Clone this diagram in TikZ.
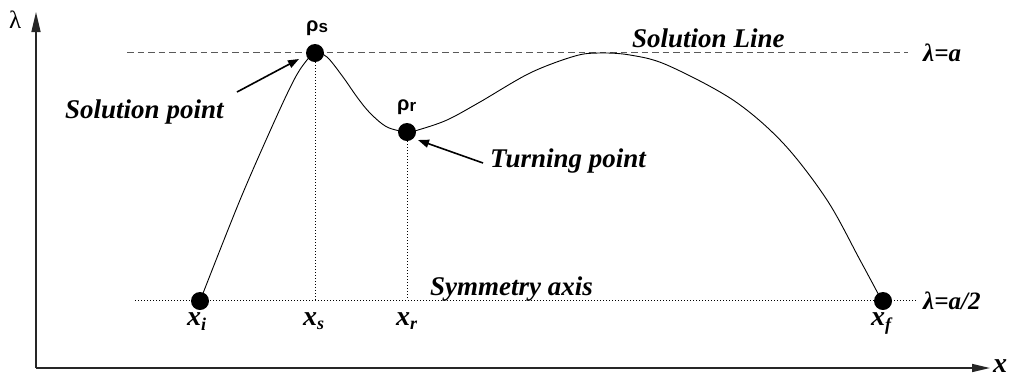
\documentclass[tikz,border=0pt]{standalone}
\usepackage{fontspec}
\setmainfont{Liberation Serif}
\newfontfamily\lblfont{Liberation Serif}[UprightFont={* Bold Italic}]
\newfontfamily\rhofont{Liberation Sans}[UprightFont={* Bold}]
\usetikzlibrary{arrows.meta}
\begin{document}
\begin{tikzpicture}[x=1pt,y=-1pt,
  lbl/.style={font=\lblfont\fontsize{27}{30}\selectfont, inner sep=0pt, anchor=base west},
  xlbl/.style={font=\lblfont\fontsize{28}{30}\selectfont, inner sep=0pt, anchor=base west},
  rholbl/.style={font=\rhofont\fontsize{20}{20}\selectfont, inner sep=0pt, anchor=base west},
  dot/.style={circle, fill=black, minimum size=18pt, inner sep=0pt},
  axisline/.style={line width=1.5pt, black!85},
  curveline/.style={line width=0.9pt},
  dashline/.style={line width=0.9pt, black!65, dash pattern=on 6.5pt off 4pt},
  dotline/.style={line width=0.9pt, dash pattern=on 1pt off 2pt},
  pointer/.style={line width=1.6pt, -{Triangle[length=11pt,width=8pt]}}]
\useasboundingbox (0,0) rectangle (1013,376);
% axes
\coordinate (O) at (36,368);
\coordinate (ytop) at (36,12);
\coordinate (xend) at (990,368);
\draw[axisline, -{Triangle[length=20pt,width=9pt]}] (O) -- (ytop);
\draw[axisline, -{Triangle[length=18pt,width=8pt]}] (O) -- (xend);
\node[font=\fontsize{25}{26}\selectfont, inner sep=0pt, anchor=base west] (lamax) at (9,28) {λ};
\node[xlbl] (xax) at (993,372) {x};
% reference lines
\coordinate (dl) at (127,52);
\coordinate (dr) at (908,52);
\draw[dashline] (dl) -- (dr);
\coordinate (sl) at (135,300);
\coordinate (sr) at (917,300);
\draw[dotline] (sl) -- (sr);
% curve
\draw[curveline] plot[smooth, tension=0.55] coordinates {
  (200,301) (240,200) (275,120) (295,78) (307,60) (315,53)
  (327,57) (343,77) (357,97) (370,113) (387,127) (407,132)
  (418,130) (447,120) (480,102) (530,73) (575,56) (600,53) (630,55)
  (667,65) (733,100) (783,143) (827,200) (860,260) (882,301)};
% points
\node[dot] (xi) at (200,301) {};
\node[dot] (ps) at (315,53) {};
\node[dot] (pr) at (407,132) {};
\node[dot] (xf) at (883,301) {};
\draw[dotline] (ps) -- (ps |- sl);
\draw[dotline] (pr) -- (pr |- sl);
% labels
\node[rholbl] (rs) at (306,31) {ρ\raisebox{-1.5pt}{\fontsize{17}{17}\selectfont s}};
\node[rholbl] (rr) at (397,110) {ρ\raisebox{-1.5pt}{\fontsize{17}{17}\selectfont r}};
\node[xlbl] (lxi) at (187,325) {x\raisebox{-5pt}{\fontsize{18}{18}\selectfont i}};
\node[xlbl] (lxs) at (303,325) {x\raisebox{-4pt}{\fontsize{18}{18}\selectfont s}};
\node[xlbl] (lxr) at (396,325) {x\raisebox{-4pt}{\fontsize{18}{18}\selectfont r}};
\node[xlbl] (lxf) at (871,325) {x\raisebox{-5pt}{\fontsize{18}{18}\selectfont f}};
\node[lbl] (solpt) at (65,118) {Solution point};
\node[lbl] (turnpt) at (490,167) {Turning point};
\node[lbl] (solline) at (632,47) {Solution Line};
\node[lbl] (symax) at (430,295) {Symmetry axis};
\node[lbl, font=\lblfont\fontsize{25}{28}\selectfont] (la) at (923,61) {λ=a};
\node[lbl, font=\lblfont\fontsize{25}{28}\selectfont] (la2) at (923,309) {λ=a/2};
% pointers
\coordinate (spt) at (237,92);
\coordinate (sph) at (299,59);
\draw[pointer] (spt) -- (sph);
\coordinate (tpt) at (483,163);
\coordinate (tph) at (418,140);
\draw[pointer] (tpt) -- (tph);
\end{tikzpicture}
\end{document}
